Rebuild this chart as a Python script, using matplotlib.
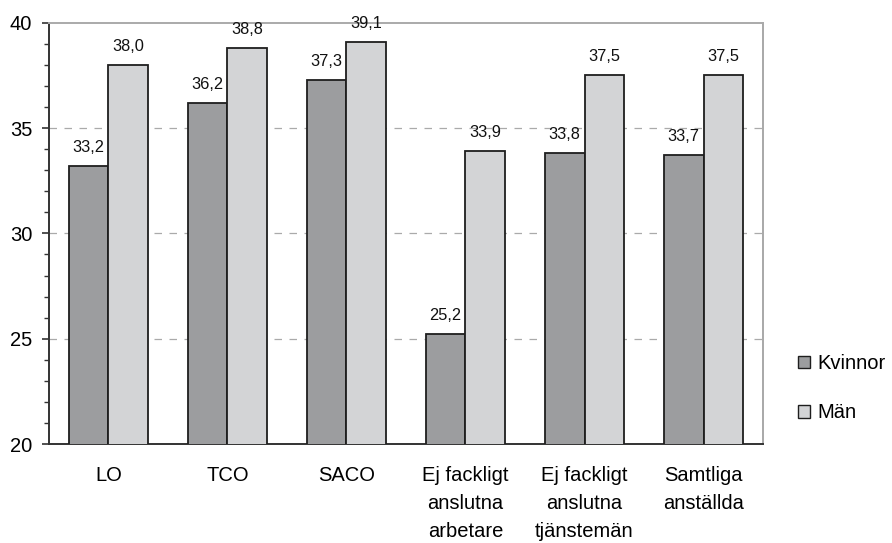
import matplotlib
matplotlib.use("Agg")
import matplotlib.pyplot as plt
from matplotlib.patches import Patch
from matplotlib.ticker import MultipleLocator
import numpy as np

categories = ["LO", "TCO", "SACO", "Ej fackligt\nanslutna\narbetare",
              "Ej fackligt\nanslutna\ntjänstemän", "Samtliga\nanställda"]
kvinnor = [33.2, 36.2, 37.3, 25.2, 33.8, 33.7]
man = [38.0, 38.8, 39.1, 33.9, 37.5, 37.5]
series_names = ["Kvinnor", "Män"]

plt.rcParams['font.family'] = ['Liberation Sans', 'DejaVu Sans']

fig = plt.figure(figsize=(8.92, 5.43), dpi=100)
ax = fig.add_axes([0.0549, 0.1823, 0.8005, 0.7757])

x = np.arange(len(categories))
w = 0.335
dark = '#9c9d9f'
light = '#d3d4d6'
edge = '#1e1e1e'
b1 = ax.bar(x - w/2, kvinnor, w, color=dark, edgecolor=edge, linewidth=1.3, zorder=3)
b2 = ax.bar(x + w/2, man, w, color=light, edgecolor=edge, linewidth=1.3, zorder=3)

for bars, vals in ((b1, kvinnor), (b2, man)):
    for rect, v in zip(bars, vals):
        ax.annotate(f"{v:.1f}".replace('.', ','),
                    (rect.get_x() + rect.get_width()/2, v),
                    xytext=(0, 8), textcoords='offset points',
                    ha='center', va='bottom', fontsize=11.8, color='#111111', zorder=4)

ax.set_xlim(-0.5, len(categories) - 0.5)
ax.set_ylim(20, 40)
ax.yaxis.set_major_locator(MultipleLocator(5))
ax.yaxis.set_minor_locator(MultipleLocator(1))
ax.set_xticks(x)
ax.set_xticklabels(categories, fontsize=14.5, linespacing=1.6)
ax.tick_params(axis='x', length=0, pad=16)
ax.tick_params(axis='y', which='major', length=5, width=1.2, color='#333333', labelsize=14.5, pad=7)
ax.tick_params(axis='y', which='minor', length=3.5, width=1.0, color='#333333')

for yv in (25, 30, 35):
    ax.axhline(yv, color='#aaaaaa', linewidth=0.9, linestyle=(0, (6, 6)), zorder=1)

ax.spines['left'].set_color('#333333')
ax.spines['left'].set_linewidth(1.4)
ax.spines['bottom'].set_color('#333333')
ax.spines['bottom'].set_linewidth(1.4)
ax.spines['top'].set_color('#aaaaaa')
ax.spines['top'].set_linewidth(1.4)
ax.spines['right'].set_color('#999999')
ax.spines['right'].set_linewidth(1.2)

handles = [Patch(facecolor=dark, edgecolor=edge, linewidth=1.0),
           Patch(facecolor=light, edgecolor=edge, linewidth=1.0)]
fig.legend(handles, series_names, loc='center left', bbox_to_anchor=(0.895, 0.285),
           frameon=False, fontsize=14.5, handlelength=0.6, handleheight=0.6,
           handletextpad=0.35, labelspacing=1.5, borderpad=0, borderaxespad=0)

fig.savefig("out.png", dpi=100)
